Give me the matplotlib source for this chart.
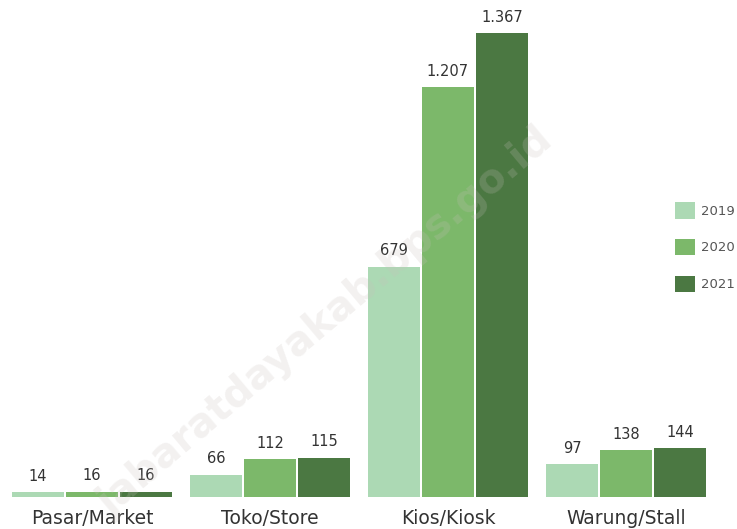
"""Grouped bar chart: number of outlets by type, 2019-2021."""

import matplotlib.pyplot as plt
import numpy as np
from matplotlib.patches import Patch

# ----------------------------------------------------------------------------
# Data

categories = ['Pasar/Market', 'Toko/Store', 'Kios/Kiosk', 'Warung/Stall']
years = ['2019', '2020', '2021']
vals_2019 = [14, 66, 679, 97]
vals_2020 = [16, 112, 1207, 138]
vals_2021 = [16, 115, 1367, 144]

colors = ['#acd9b4', '#7cb86a', '#4b7842']

# ----------------------------------------------------------------------------
# Figure

plt.rcParams['font.family'] = ['DejaVu Sans']

fig = plt.figure(figsize=(7.37, 5.29), dpi=100)
ax = fig.add_axes([0, 32 / 529, 1, 497 / 529])

x = np.arange(len(categories))
width = 0.29
step = 0.303

for i, (vals, year) in enumerate(zip([vals_2019, vals_2020, vals_2021], years)):
    pos = x + (i - 1) * step
    ax.bar(pos, vals, width=width, color=colors[i], label=year, zorder=2)
    for p, v in zip(pos, vals):
        ax.text(p, v + 25, f'{v:,}'.replace(',', '.'), ha='center', va='bottom',
                fontsize=10.5, color='#333333', zorder=3)

ax.set_xlim(-92 / 178, (737 - 92) / 178)
ax.set_ylim(0, 497 / 0.3394)
ax.axis('off')

for xi, cat in zip(x, categories):
    ax.text(xi, -22 / 0.3394, cat, ha='center', va='center', fontsize=13.5,
            color='#333333')

# Legend ---------------------------------------------------------------------
handles = [Patch(facecolor=c, edgecolor='none') for c in colors]
ax.legend(handles, years, loc='center left', bbox_to_anchor=(663 / 737, 0.503),
          frameon=False, fontsize=9.5, labelcolor='#555555', handlelength=1.5,
          handleheight=1.5, labelspacing=1.55, handletextpad=0.5)

# Watermark ------------------------------------------------------------------
fig.text(326 / 737, 1 - 322 / 529, 'jabaratdayakab.bps.go.id', rotation=40,
         ha='center', va='center', fontsize=29, fontweight='bold',
         color='#c8c0bc', alpha=0.22, zorder=10)

fig.savefig('out.png', dpi=100)
